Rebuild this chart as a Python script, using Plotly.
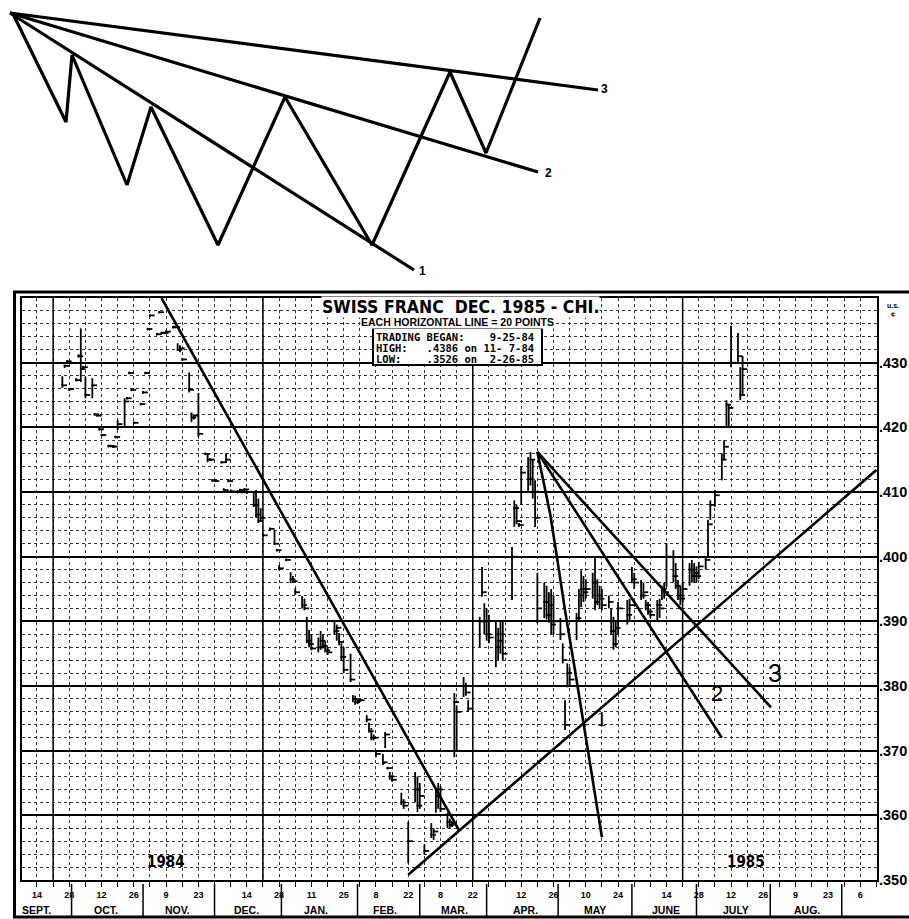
import plotly.graph_objects as go
import pandas as pd

# ---------------- main chart: daily bars ----------------
sep_dates = ["1984-09-25", "1984-09-26", "1984-09-27", "1984-09-28"]
sep_high = [.4279, .4297, .4304, .4261]
sep_low = [.4261, .4292, .4299, .4256]
sep_close = [.4265, .4295, .4302, .4259]

oct_dates = ["1984-10-01", "1984-10-02", "1984-10-03", "1984-10-04", "1984-10-05", "1984-10-08",
             "1984-10-09", "1984-10-10", "1984-10-11", "1984-10-12", "1984-10-15", "1984-10-16",
             "1984-10-17", "1984-10-18", "1984-10-19", "1984-10-22", "1984-10-23", "1984-10-24",
             "1984-10-25", "1984-10-26", "1984-10-29", "1984-10-30", "1984-10-31"]
oct_high = [.4276, .4313, .4353, .4295, .4278, .4276, .4222, .4221, .4199, .4190, .4173, .4173,
            .4172, .4187, .4211, .4245, .4247, .4286, .4260, .4209, .4238, .4256, .4286]
oct_low = [.4271, .4308, .4270, .4290, .4245, .4245, .4218, .4217, .4195, .4186, .4169, .4169,
           .4168, .4183, .4196, .4199, .4243, .4282, .4256, .4205, .4234, .4252, .4282]
oct_close = [.4273, .4310, .4290, .4293, .4250, .4265, .4220, .4218, .4197, .4188, .4171, .4171,
             .4170, .4185, .4205, .4240, .4245, .4284, .4258, .4207, .4236, .4254, .4284]

nov_dates = ["1984-11-01", "1984-11-02", "1984-11-05", "1984-11-06", "1984-11-07", "1984-11-08",
             "1984-11-09", "1984-11-12", "1984-11-13", "1984-11-14", "1984-11-15", "1984-11-16",
             "1984-11-19", "1984-11-20", "1984-11-21", "1984-11-23", "1984-11-26", "1984-11-27",
             "1984-11-28", "1984-11-29", "1984-11-30"]
nov_high = [.4354, .4375, .4346, .4380, .4348, .4348, .4350, .4357, .4357, .4330, .4327, .4307,
            .4285, .4223, .4220, .4253, .4161, .4160, .4152, .4120, .4120]
nov_low = [.4350, .4371, .4342, .4376, .4344, .4344, .4346, .4353, .4353, .4318, .4316, .4303,
           .4254, .4208, .4212, .4185, .4157, .4146, .4148, .4116, .4116]
nov_close = [.4352, .4373, .4344, .4378, .4346, .4346, .4348, .4355, .4355, .4320, .4322, .4305,
             .4258, .4215, .4218, .4190, .4159, .4150, .4150, .4118, .4117]

dec_dates = ["1984-12-03", "1984-12-04", "1984-12-05", "1984-12-06", "1984-12-07", "1984-12-10",
             "1984-12-11", "1984-12-12", "1984-12-13", "1984-12-14", "1984-12-17", "1984-12-18",
             "1984-12-19", "1984-12-20", "1984-12-21", "1984-12-24", "1984-12-26", "1984-12-27",
             "1984-12-28", "1984-12-31"]
dec_high = [.4148, .4106, .4160, .4120, .4104, .4103, .4105, .4104, .4106, .4103, .4100, .4103,
            .4090, .4075, .4035, .4045, .4041, .4012, .3987, .3997]
dec_low = [.4144, .4100, .4145, .4115, .4099, .4098, .4099, .4098, .4100, .4097, .4077, .4060,
           .4052, .4055, .4031, .4041, .4018, .4008, .3979, .3993]
dec_close = [.4146, .4103, .4150, .4117, .4101, .4100, .4103, .4100, .4104, .4100, .4080, .4065,
             .4055, .4060, .4033, .4043, .4020, .4010, .3982, .3995]

jan_dates = ["1985-01-02", "1985-01-03", "1985-01-04", "1985-01-07", "1985-01-08", "1985-01-09",
             "1985-01-10", "1985-01-11", "1985-01-14", "1985-01-15", "1985-01-16", "1985-01-17",
             "1985-01-18", "1985-01-21", "1985-01-22", "1985-01-23", "1985-01-24", "1985-01-25",
             "1985-01-28", "1985-01-29", "1985-01-30", "1985-01-31"]
jan_high = [.3976, .3970, .3951, .3939, .3935, .3907, .3887, .3880, .3875, .3885, .3880, .3870,
            .3860, .3899, .3895, .3882, .3866, .3860, .3850, .3786, .3785, .3780]
jan_low = [.3959, .3960, .3941, .3920, .3917, .3866, .3860, .3855, .3852, .3856, .3858, .3852,
           .3848, .3879, .3870, .3863, .3840, .3820, .3806, .3775, .3771, .3772]
jan_close = [.3965, .3962, .3945, .3925, .3920, .3870, .3865, .3858, .3860, .3870, .3862, .3855,
             .3852, .3885, .3890, .3868, .3845, .3825, .3810, .3780, .3775, .3778]

feb_dates = ["1985-02-01", "1985-02-04", "1985-02-05", "1985-02-06", "1985-02-07", "1985-02-08",
             "1985-02-11", "1985-02-12", "1985-02-13", "1985-02-14", "1985-02-15", "1985-02-19",
             "1985-02-20", "1985-02-22", "1985-02-25", "1985-02-26", "1985-02-27"]
feb_high = [.3780, .3755, .3743, .3735, .3725, .3701, .3695, .3729, .3675, .3667, .3662, .3635,
            .3625, .3590, .3667, .3660, .3650]
feb_low = [.3775, .3744, .3728, .3716, .3716, .3690, .3678, .3704, .3671, .3655, .3652, .3616,
           .3610, .3526, .3620, .3605, .3610]
feb_close = [.3778, .3748, .3730, .3720, .3720, .3695, .3682, .3725, .3673, .3660, .3655, .3620,
             .3615, .3560, .3640, .3615, .3630]

mar_dates = ["1985-03-01", "1985-03-04", "1985-03-05", "1985-03-06", "1985-03-07", "1985-03-08",
             "1985-03-11", "1985-03-12", "1985-03-13", "1985-03-14", "1985-03-15", "1985-03-18",
             "1985-03-19", "1985-03-20", "1985-03-25", "1985-03-26", "1985-03-27", "1985-03-28",
             "1985-03-29"]
mar_high = [.3555, .3588, .3580, .3640, .3650, .3645, .3604, .3595, .3590, .3789, .3770, .3814,
            .3805, .3778, .3907, .3984, .3928, .3920, .3910]
mar_low = [.3539, .3565, .3562, .3604, .3610, .3605, .3580, .3580, .3582, .3690, .3700, .3783,
           .3785, .3760, .3860, .3938, .3880, .3870, .3866]
mar_close = [.3545, .3570, .3575, .3630, .3640, .3610, .3590, .3585, .3588, .3775, .3760, .3800,
             .3790, .3765, .3900, .3945, .3900, .3880, .3875]

apr_dates = ["1985-04-01", "1985-04-02", "1985-04-03", "1985-04-04", "1985-04-08", "1985-04-09",
             "1985-04-10", "1985-04-11", "1985-04-12", "1985-04-15", "1985-04-16", "1985-04-17",
             "1985-04-18", "1985-04-19", "1985-04-22", "1985-04-23", "1985-04-24", "1985-04-25",
             "1985-04-26", "1985-04-29", "1985-04-30"]
apr_high = [.3902, .3890, .3902, .3900, .4015, .4087, .4080, .4052, .4140, .4154, .4162, .4150,
            .4118, .3975, .3960, .3955, .3945, .3950, .3940, .3905, .3866]
apr_low = [.3829, .3840, .3850, .3840, .3933, .4046, .4050, .4046, .4080, .4100, .4110, .4090,
           .4046, .3897, .3905, .3903, .3898, .3880, .3880, .3871, .3835]
apr_close = [.3860, .3870, .3880, .3850, .4000, .4075, .4055, .4049, .4130, .4120, .4150, .4100,
             .4060, .3920, .3930, .3910, .3925, .3895, .3900, .3880, .3840]

may_dates = ["1985-05-01", "1985-05-02", "1985-05-03", "1985-05-06", "1985-05-07", "1985-05-08",
             "1985-05-09", "1985-05-10", "1985-05-13", "1985-05-14", "1985-05-15", "1985-05-16",
             "1985-05-17", "1985-05-20", "1985-05-21", "1985-05-22", "1985-05-23", "1985-05-24",
             "1985-05-28", "1985-05-29", "1985-05-30", "1985-05-31"]
may_high = [.3778, .3835, .3829, .3913, .3950, .3979, .3970, .3965, .3975, .4000, .3965, .3955,
            .3950, .3940, .3920, .3907, .3900, .3930, .3933, .3935, .3984, .3975]
may_low = [.3732, .3798, .3800, .3871, .3900, .3922, .3930, .3935, .3935, .3917, .3925, .3920,
           .3917, .3920, .3880, .3856, .3860, .3880, .3895, .3900, .3959, .3950]
may_close = [.3740, .3820, .3810, .3905, .3940, .3950, .3945, .3950, .3960, .3930, .3940, .3935,
             .3925, .3930, .3885, .3865, .3890, .3920, .3910, .3925, .3965, .3960]

jun_dates = ["1985-06-03", "1985-06-04", "1985-06-05", "1985-06-06", "1985-06-07", "1985-06-10",
             "1985-06-11", "1985-06-12", "1985-06-13", "1985-06-14", "1985-06-17", "1985-06-18",
             "1985-06-19", "1985-06-20", "1985-06-21", "1985-06-24", "1985-06-25", "1985-06-26",
             "1985-06-27", "1985-06-28"]
jun_high = [.3964, .3960, .3933, .3930, .3920, .3933, .3935, .3955, .3960, .4021, .4010, .3990,
            .3964, .3955, .3960, .3990, .3995, .3990, .3985, .3992]
jun_low = [.3933, .3935, .3917, .3910, .3905, .3902, .3905, .3933, .3935, .3953, .3960, .3950,
           .3933, .3925, .3930, .3955, .3960, .3959, .3960, .3965]
jun_close = [.3940, .3945, .3925, .3915, .3910, .3925, .3920, .3950, .3945, .4000, .3970, .3955,
             .3940, .3935, .3950, .3980, .3970, .3975, .3970, .3985]

jul_dates = ["1985-07-01", "1985-07-02", "1985-07-03", "1985-07-05", "1985-07-08", "1985-07-09",
             "1985-07-10", "1985-07-11", "1985-07-12", "1985-07-15", "1985-07-16", "1985-07-17"]
jul_high = [.4000, .4057, .4087, .4103, .4160, .4180, .4242, .4235, .4357, .4346, .4293, .4310]
jul_low = [.3980, .4000, .4057, .4077, .4118, .4150, .4200, .4200, .4293, .4300, .4242, .4250]
jul_close = [.3995, .4050, .4080, .4095, .4150, .4170, .4235, .4230, .4300, .4310, .4250, .4290]

# ---------------- trendlines (date, price) ----------------
down_line_dates = ["1984-11-07", "1985-03-16"]
down_line_prices = [.4400, .3577]
up_line_dates = ["1985-02-22", "1985-09-13"]
up_line_prices = [.3508, .4134]
fan1_dates = ["1985-04-19", "1985-04-24 12:00", "1985-04-27 12:00", "1985-05-01",
              "1985-05-05 07:00", "1985-05-11", "1985-05-17"]
fan1_prices = [.4162, .4067, .3999, .3917, .3825, .3701, .3566]
fan2_dates = ["1985-04-19", "1985-07-08"]
fan2_prices = [.4162, .3720]
fan3_dates = ["1985-04-19", "1985-07-29 08:00"]
fan3_prices = [.4162, .3767]
fan_label_text = ["1", "2", "3"]
fan_label_dates = ["1985-05-17", "1985-07-06", "1985-07-31"]
fan_label_prices = [.3750, .3788, .3820]

# ---------------- axes text ----------------
y_major = [.350, .360, .370, .380, .390, .400, .410, .420, .430, .440]
y_label_vals = [.350, .360, .370, .380, .390, .400, .410, .420, .430]
y_labels = [".350", ".360", ".370", ".380", ".390", ".400", ".410", ".420", ".430"]
day_label_dates = ["1984-09-14", "1984-09-28", "1984-10-12", "1984-10-26", "1984-11-09", "1984-11-23",
                   "1984-12-14", "1984-12-28", "1985-01-11", "1985-01-25", "1985-02-08", "1985-02-22",
                   "1985-03-08", "1985-03-22", "1985-04-12", "1985-04-26", "1985-05-10", "1985-05-24",
                   "1985-06-14", "1985-06-28", "1985-07-12", "1985-07-26", "1985-08-09", "1985-08-23",
                   "1985-09-06"]
day_label_text = ["14", "28", "12", "26", "9", "23", "14", "28", "11", "25", "8", "22", "8", "22",
                  "12", "26", "10", "24", "14", "28", "12", "26", "9", "23", "6"]
month_names = ["SEPT.", "OCT.", "NOV.", "DEC.", "JAN.", "FEB.", "MAR.", "APR.", "MAY", "JUNE",
               "JULY", "AUG."]
month_label_dates = ["1984-09-14", "1984-10-14", "1984-11-14", "1984-12-14", "1985-01-13", "1985-02-12",
                     "1985-03-14", "1985-04-14", "1985-05-14", "1985-06-14", "1985-07-14", "1985-08-14"]
month_sep_dates = ["1984-09-29", "1984-10-30", "1984-11-30", "1984-12-29", "1985-01-31", "1985-02-27",
                   "1985-03-28", "1985-04-28", "1985-05-30", "1985-06-27", "1985-07-29", "1985-08-29"]
quarter_lines = ["1984-09-21", "1984-12-21", "1985-03-22", "1985-06-21"]

# ---------------- schematic (top drawing, drawing units) ----------------
zig_x = [14, 66, 72, 127, 151, 218, 285, 372, 450, 486, 540]
zig_y = [16, 122, 55, 185, 107, 245, 97, 245, 72, 153, 18]
sch_apex = (10, 13)
sch_end_x = [414, 538, 598]
sch_end_y = [270, 172, 90]
sch_label_x = [419, 545, 601]
sch_label_y = [272, 174, 90]
sch_label_text = ["1", "2", "3"]

W, H = 909, 919
def px(x):
    return x / W
def py(y):
    return (H - y) / H

NARROW = "Liberation Sans Narrow, Arial Narrow, DejaVu Sans Condensed, Liberation Sans, sans-serif"
SANS = "Liberation Sans, Arial, DejaVu Sans, sans-serif"
MONO = "DejaVu Sans Mono, Liberation Mono, monospace"

dates = (sep_dates + oct_dates + nov_dates + dec_dates + jan_dates + feb_dates + mar_dates
         + apr_dates + may_dates + jun_dates + jul_dates)
highs = (sep_high + oct_high + nov_high + dec_high + jan_high + feb_high + mar_high
         + apr_high + may_high + jun_high + jul_high)
lows = (sep_low + oct_low + nov_low + dec_low + jan_low + feb_low + mar_low
        + apr_low + may_low + jun_low + jul_low)
closes = (sep_close + oct_close + nov_close + dec_close + jan_close + feb_close + mar_close
          + apr_close + may_close + jun_close + jul_close)

bx, by = [], []
for d, h, l in zip(dates, highs, lows):
    bx += [d, d, None]
    by += [l, h, None]
close_x = [pd.Timestamp(d) + pd.Timedelta(hours=20) for d in dates]

fig = go.Figure()
fig.add_trace(go.Scatter(x=bx, y=by, mode="lines", line=dict(color="black", width=1.8),
                         hoverinfo="skip", xaxis="x", yaxis="y"))
fig.add_trace(go.Scatter(x=close_x, y=closes, mode="markers",
                         marker=dict(symbol="line-ew", size=4, line=dict(color="black", width=1.8)),
                         hoverinfo="skip", xaxis="x", yaxis="y"))
for xs, ys in [(down_line_dates, down_line_prices), (up_line_dates, up_line_prices),
               (fan1_dates, fan1_prices), (fan2_dates, fan2_prices), (fan3_dates, fan3_prices)]:
    fig.add_trace(go.Scatter(x=xs, y=ys, mode="lines", line=dict(color="black", width=2.6),
                             hoverinfo="skip", xaxis="x", yaxis="y"))

# schematic traces
fig.add_trace(go.Scatter(x=zig_x, y=zig_y, mode="lines", line=dict(color="black", width=3.2),
                         hoverinfo="skip", xaxis="x2", yaxis="y2"))
for ex, ey in zip(sch_end_x, sch_end_y):
    fig.add_trace(go.Scatter(x=[sch_apex[0], ex], y=[sch_apex[1], ey], mode="lines",
                             line=dict(color="black", width=3.2), hoverinfo="skip",
                             xaxis="x2", yaxis="y2"))
fig.add_trace(go.Scatter(x=sch_label_x, y=sch_label_y, mode="text", text=sch_label_text,
                         textposition="middle right",
                         textfont=dict(family=SANS, size=12, color="black", weight="bold"),
                         hoverinfo="skip", xaxis="x2", yaxis="y2"))

week_ticks = pd.date_range("1984-09-07", "1985-09-13", freq="7D")
label_map = dict(zip(pd.to_datetime(day_label_dates), day_label_text))
week_text = [label_map.get(t, "") for t in week_ticks]

y_minor = [round(0.350 + 0.002 * i, 3) for i in range(46)]

fig.update_layout(
    width=W, height=H, margin=dict(l=0, r=0, t=0, b=0),
    paper_bgcolor="white", plot_bgcolor="white", showlegend=False,
    xaxis=dict(domain=[px(22), px(877)], type="date",
               range=["1984-09-07 12:00", "1985-09-13 07:00"],
               tickmode="array", tickvals=list(week_ticks), ticktext=week_text,
               ticks="outside", ticklen=5, tickwidth=1.2, tickcolor="black",
               showgrid=True, gridcolor="#333", griddash="dot", gridwidth=1,
               showline=True, linecolor="black", linewidth=2, mirror=True,
               tickfont=dict(family=SANS, size=9, color="black", weight="bold"),
               tickangle=0, fixedrange=True, anchor="y", zeroline=False),
    yaxis=dict(domain=[py(880), py(298)], range=[0.350, 0.440], side="right",
               tickmode="array", tickvals=y_major, showticklabels=False, ticks="",
               showgrid=True, gridcolor="black", gridwidth=1.5,
               minor=dict(tickmode="array", tickvals=y_minor, showgrid=True, gridcolor="#333",
                          griddash="dot", gridwidth=1, ticks=""),
               showline=True, linecolor="black", linewidth=2, mirror=True,
               fixedrange=True, anchor="x", zeroline=False),
    xaxis2=dict(domain=[0, 1], range=[0, W], visible=False, fixedrange=True, anchor="y2"),
    yaxis2=dict(domain=[py(292), 1], range=[292, 0], visible=False, fixedrange=True, anchor="x2"),
)

shapes = []
for q in quarter_lines:
    shapes.append(dict(type="line", xref="x", yref="y domain", x0=q, x1=q, y0=0, y1=1,
                       line=dict(color="black", width=1.5), layer="above"))
for m in month_sep_dates:
    shapes.append(dict(type="line", xref="x", yref="paper", x0=m, x1=m, y0=py(917), y1=py(884),
                       line=dict(color="black", width=1.5)))
# outer frame
shapes.append(dict(type="line", xref="paper", yref="paper", x0=px(14.5), x1=px(14.5),
                   y0=py(918), y1=py(291), line=dict(color="black", width=3)))
shapes.append(dict(type="line", xref="paper", yref="paper", x0=px(13), x1=1,
                   y0=py(292), y1=py(292), line=dict(color="black", width=3)))
shapes.append(dict(type="line", xref="paper", yref="paper", x0=px(13), x1=1,
                   y0=py(917), y1=py(917), line=dict(color="black", width=3)))
# info box
shapes.append(dict(type="rect", xref="paper", yref="paper", x0=px(373), x1=px(542),
                   y0=py(365), y1=py(328), line=dict(color="black", width=2), fillcolor="white"))
fig.update_layout(shapes=shapes)

ann = []
for t, d in zip(month_names, month_label_dates):
    ann.append(dict(text=t, x=d, y=py(910), xref="x", yref="paper", showarrow=False,
                    xanchor="center", yanchor="middle",
                    font=dict(family=SANS, size=10.5, color="black", weight="bold")))
for t, v in zip(y_labels, y_label_vals):
    ann.append(dict(text=t, x=px(877.5), y=v, xref="paper", yref="y", showarrow=False,
                    xanchor="left", yanchor="middle", borderpad=0,
                    font=dict(family=SANS, size=14.5, color="black", weight="bold")))
ann.append(dict(text="SWISS FRANC  DEC. 1985 - CHI.", x=px(461), y=py(307), xref="paper",
                yref="paper", showarrow=False, bgcolor="white", borderpad=0,
                xanchor="center", yanchor="middle",
                font=dict(family=NARROW, size=17.5, color="black", weight="bold")))
ann.append(dict(text="EACH HORIZONTAL LINE = 20 POINTS", x=px(457), y=py(322), xref="paper",
                yref="paper", showarrow=False, bgcolor="white", borderpad=0,
                xanchor="center", yanchor="middle",
                font=dict(family=SANS, size=10.5, color="black", weight="bold")))
box_lines = ["TRADING BEGAN:    9-25-84",
             "HIGH:   .4386 on 11- 7-84",
             "LOW:    .3526 on  2-26-85"]
for line, yy in zip(box_lines, [337, 348, 359]):
    ann.append(dict(text=line.replace(" ", "\u00a0"), x=px(375), y=py(yy), xref="paper",
                    yref="paper", xanchor="left", yanchor="middle", showarrow=False,
                    borderpad=0,
                    font=dict(family=MONO, size=10.5, color="black", weight="bold")))
ann.append(dict(text="u.s.<br>¢", x=px(893), y=py(310), xref="paper", yref="paper",
                xanchor="center", yanchor="middle",
                showarrow=False, font=dict(family=SANS, size=7, color="black", weight="bold")))
ann.append(dict(text="1984", x=px(166), y=py(862), xref="paper", yref="paper", showarrow=False,
                xanchor="center", yanchor="middle",
                font=dict(family=NARROW, size=15, color="black", weight="bold")))
ann.append(dict(text="1985", x=px(746), y=py(862), xref="paper", yref="paper", showarrow=False,
                xanchor="center", yanchor="middle",
                font=dict(family=NARROW, size=15, color="black", weight="bold")))
fam = ["Liberation Serif, serif", SANS, SANS]
sizes = [22, 22, 25]
for t, d, p, f, s in zip(fan_label_text, fan_label_dates, fan_label_prices, fam, sizes):
    ann.append(dict(text=t, x=d, y=p, xref="x", yref="y", showarrow=False,
                    xanchor="center", yanchor="middle",
                    font=dict(family=f, size=s, color="black")))
fig.update_layout(annotations=ann)

fig.write_html("out.html", config={"displayModeBar": False},
               post_script="document.body.style.margin='0';document.body.style.overflow='hidden';")
